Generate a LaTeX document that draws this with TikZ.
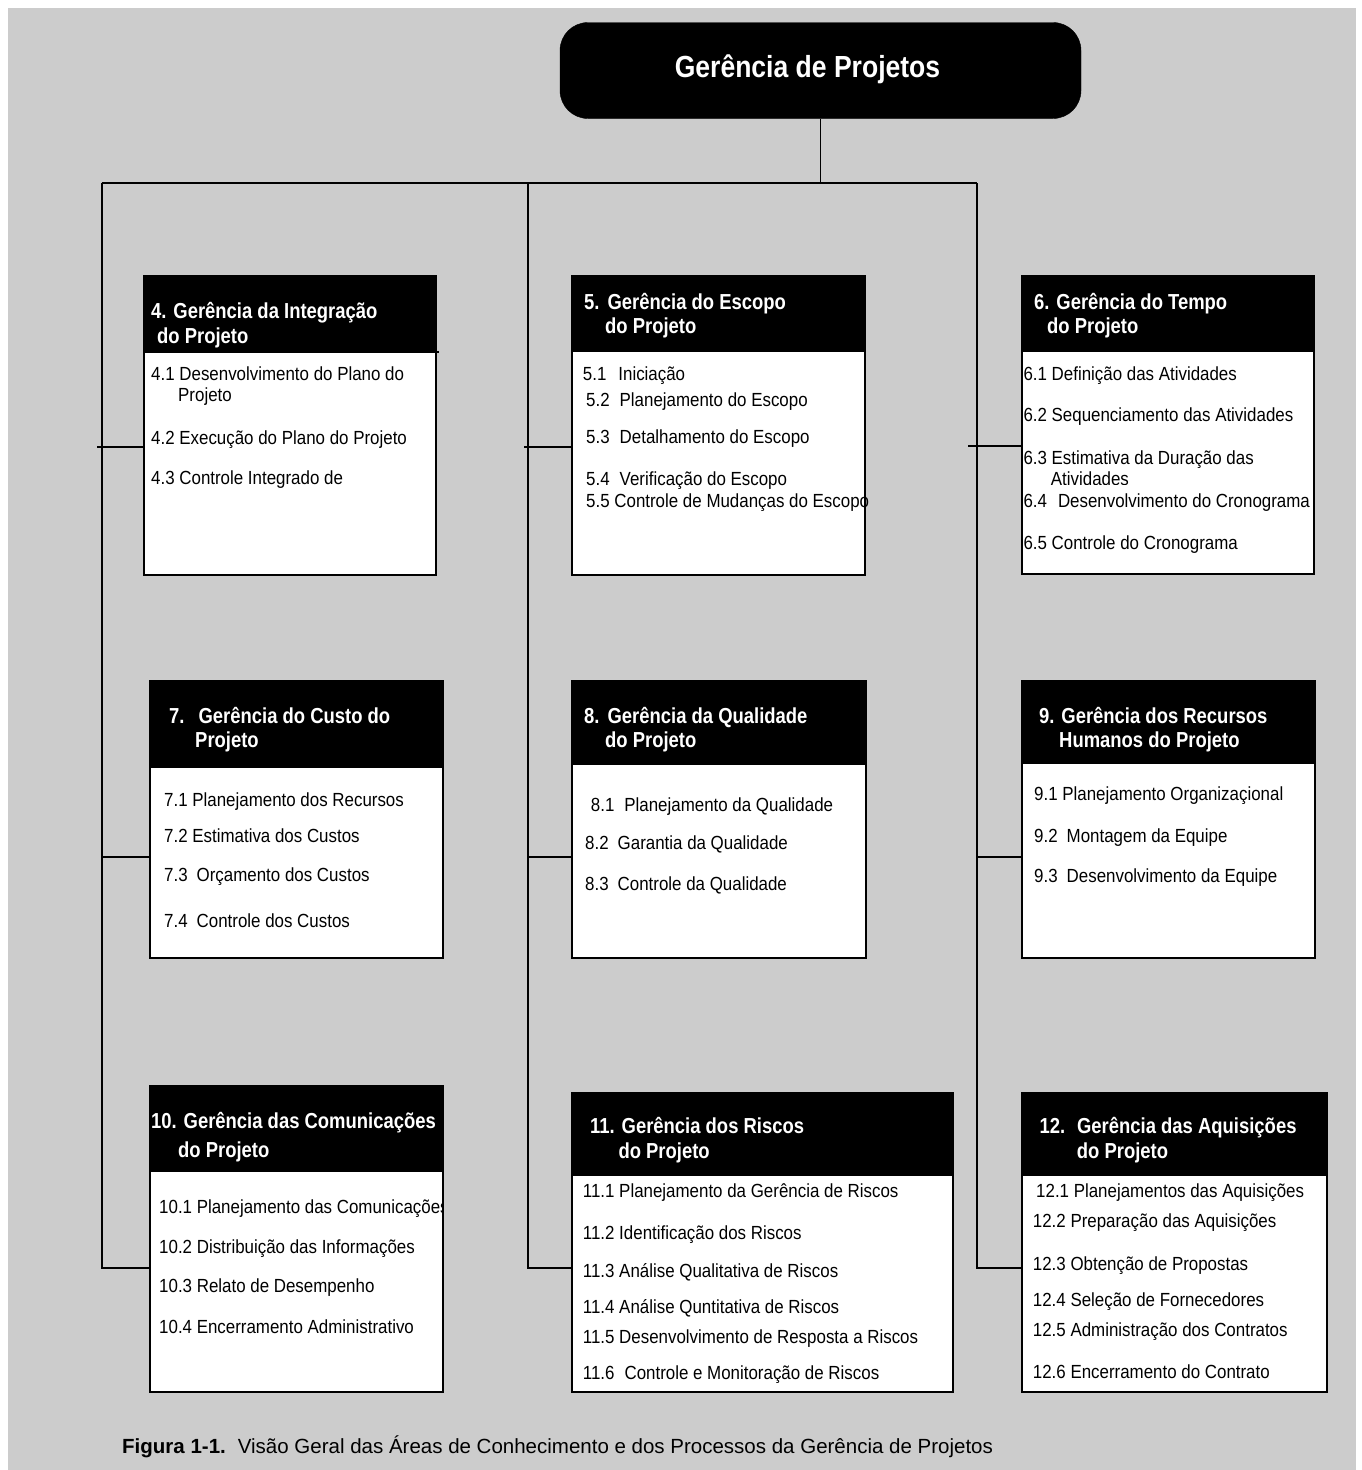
\documentclass[tikz,border=0pt]{standalone}
\usepackage{fontspec}
\setmainfont{Liberation Sans}
\newfontfamily\bodyf[FakeStretch=0.89]{Liberation Sans}
\newfontfamily\headf[FakeStretch=0.85]{Liberation Sans}
\newfontfamily\titlef[FakeStretch=0.87]{Liberation Sans}
\definecolor{bg}{RGB}{204,204,204}
\newcommand\xgap[1]{\hspace{#1pt}}
\tikzset{
  conn/.style={draw=black, line width=1.8pt},
  bx/.style={draw=black, line width=1.8pt, fill=white, anchor=north west, inner sep=0pt, outer sep=0pt},
  hd/.style={draw=black, line width=1.8pt, fill=black, anchor=north west, inner sep=0pt, outer sep=0pt},
  headtext/.style={anchor=base west, inner sep=0pt, text=white, font=\headf\bfseries\fontsize{21.7}{25}\selectfont},
  bodytext/.style={anchor=base west, inner sep=0pt, text=black, font=\bodyf\fontsize{19}{22}\selectfont},
  topbox/.style={fill=black, draw=black, rounded corners=28pt, minimum width=521pt, minimum height=96pt, inner sep=0pt, outer sep=0pt},
}
\newcommand\mkbox[6]{%
  \node[bx, minimum width=#4pt, minimum height=#5pt] (b#1) at (#2,#3) {};
  \node[hd, minimum width=#4pt, minimum height=#6pt] (h#1) at (#2,#3) {};}
\newcommand\hdtxt[4]{\node[headtext] (#1) at (#2,#3) {#4};}
\newcommand\bdtxt[4]{\node[bodytext] (#1) at (#2,#3) {#4};}
\begin{document}
\begin{tikzpicture}[x=1pt, y=-1pt]
\useasboundingbox (0,0) rectangle (1361,1470);
\fill[white] (0,0) rectangle (1361,1470);
\fill[bg] (8,8) rectangle (1356,1470);

% root
\node[topbox] (root) at (820.5,70.5) {};
\node[anchor=base, inner sep=0pt, text=white, font=\titlef\bfseries\fontsize{30.5}{35}\selectfont] (rootlbl) at (807.5,77.3) {Gerência de Projetos};

% bus coordinates
\coordinate (busL) at (101.7,183);
\coordinate (busM) at (528.3,183);
\coordinate (busR) at (976.7,183);
\coordinate (e10) at (101.7,1268.3);
\coordinate (e11) at (528.3,1268.3);
\coordinate (e12) at (976.7,1268.3);
\coordinate (s4) at (97,446.7);
\coordinate (s5) at (524,446.7);
\coordinate (s6) at (968,445.7);
\coordinate (s7) at (101.7,856.7);
\coordinate (s8) at (528.3,856.7);
\coordinate (s9) at (976.7,856.7);

% boxes
\mkbox{4}{144.3}{276}{291.7}{299}{76}
\mkbox{5}{572.3}{276}{292.7}{299}{75}
\mkbox{6}{1021.7}{276}{292.3}{298}{75}
\mkbox{7}{150}{680.7}{293.3}{277.6}{86}
\mkbox{8}{572.3}{680.7}{293.3}{277.6}{83.3}
\mkbox{9}{1021.7}{680.7}{293.3}{277.6}{82.6}
\mkbox{10}{150}{1086}{293.3}{305.7}{84.7}
\mkbox{11}{572.3}{1092.7}{380.4}{299}{82.3}
\mkbox{12}{1021.7}{1092.7}{305}{299}{82.3}
\coordinate (tick4) at (439,352);
\draw[line width=1.2pt] (h4.south east) -- (tick4);

% connectors
\draw[conn] (root.south) -- (root.south |- busR);
\draw[conn] (busL) -- (busR);
\draw[conn] (busL) -- (e10) -- (e10 -| b10.west);
\draw[conn] (busM) -- (e11) -- (e11 -| b11.west);
\draw[conn] (busR) -- (e12) -- (e12 -| b12.west);
\draw[conn] (s4) -- (s4 -| b4.west);
\draw[conn] (s5) -- (s5 -| b5.west);
\draw[conn] (s6) -- (s6 -| b6.west);
\draw[conn] (s7) -- (s7 -| b7.west);
\draw[conn] (s8) -- (s8 -| b8.west);
\draw[conn] (s9) -- (s9 -| b9.west);

% box 4
\hdtxt{t4h1}{151}{318}{4. Gerência da Integração}
\hdtxt{t4h2}{157}{343}{do Projeto}
\bdtxt{t41}{151}{380}{4.1 Desenvolvimento do Plano do}
\bdtxt{t41b}{178}{401}{Projeto}
\bdtxt{t42}{151}{444}{4.2 Execução do Plano do Projeto}
\bdtxt{t43}{151}{484}{4.3 Controle Integrado de}

% box 5
\hdtxt{t5h1}{584}{309}{5.\xgap{8}Gerência do Escopo}
\hdtxt{t5h2}{605}{333}{do Projeto}
\bdtxt{t51}{582.7}{380}{5.1\xgap{12}Iniciação}
\bdtxt{t52}{586}{406.7}{5.2\xgap{10}Planejamento do Escopo}
\bdtxt{t53}{586}{443}{5.3\xgap{10}Detalhamento do Escopo}
\bdtxt{t54}{586}{485}{5.4\xgap{10}Verificação do Escopo}
\bdtxt{t55}{586}{507}{5.5 Controle de Mudanças do Escopo}

% box 6
\hdtxt{t6h1}{1034}{309}{6. Gerência do Tempo}
\hdtxt{t6h2}{1047}{333}{do Projeto}
\bdtxt{t61}{1023.3}{380}{6.1 Definição das Atividades}
\bdtxt{t62}{1023.3}{421.7}{6.2 Sequenciamento das Atividades}
\bdtxt{t63}{1023.3}{464}{6.3 Estimativa da Duração das}
\begin{scope}
\clip (1022,460) rectangle (1314,484);
\bdtxt{t63b}{1050.7}{485.5}{Atividades}
\end{scope}
\bdtxt{t64}{1023.3}{507.7}{6.4\xgap{11}Desenvolvimento do Cronograma}
\bdtxt{t65}{1023.3}{549}{6.5 Controle do Cronograma}

% box 7
\hdtxt{t7h1}{169}{723.3}{7.\xgap{14}Gerência do Custo do}
\hdtxt{t7h2}{195}{747.3}{Projeto}
\bdtxt{t71}{164}{806.7}{7.1 Planejamento dos Recursos}
\bdtxt{t72}{164}{842.7}{7.2 Estimativa dos Custos}
\bdtxt{t73}{164}{881.7}{7.3\xgap{9}Orçamento dos Custos}
\bdtxt{t74}{164}{927.7}{7.4\xgap{9}Controle dos Custos}

% box 8
\hdtxt{t8h1}{584}{723.3}{8.\xgap{8}Gerência da Qualidade}
\hdtxt{t8h2}{605}{747.3}{do Projeto}
\bdtxt{t81}{590.7}{811.7}{8.1\xgap{10}Planejamento da Qualidade}
\bdtxt{t82}{585}{849}{8.2\xgap{9}Garantia da Qualidade}
\bdtxt{t83}{585}{890}{8.3\xgap{9}Controle da Qualidade}

% box 9
\hdtxt{t9h1}{1039}{723.3}{9. Gerência dos Recursos}
\hdtxt{t9h2}{1059}{747.3}{Humanos do Projeto}
\bdtxt{t91}{1034}{800.7}{9.1 Planejamento Organizaçional}
\bdtxt{t92}{1034}{842.3}{9.2\xgap{9}Montagem da Equipe}
\bdtxt{t93}{1034}{882.3}{9.3\xgap{9}Desenvolvimento da Equipe}

% box 10
\hdtxt{t10h1}{151}{1128}{10. Gerência das Comunicações}
\hdtxt{t10h2}{178}{1157}{do Projeto}
\begin{scope}
\clip (150,1170) rectangle (443.3,1391.7);
\bdtxt{t101}{159}{1213}{10.1 Planejamento das Comunicações}
\end{scope}
\bdtxt{t102}{159}{1253}{10.2 Distribuição das Informações}
\bdtxt{t103}{159}{1292}{10.3 Relato de Desempenho}
\bdtxt{t104}{159}{1333}{10.4 Encerramento Administrativo}

% box 11
\hdtxt{t11h1}{590}{1133}{11. Gerência dos Riscos}
\hdtxt{t11h2}{618.3}{1158}{do Projeto}
\bdtxt{t111}{582.7}{1197}{11.1 Planejamento da Gerência de Riscos}
\bdtxt{t112}{582.7}{1239}{11.2 Identificação dos Riscos}
\bdtxt{t113}{582.7}{1277}{11.3 Análise Qualitativa de Riscos}
\bdtxt{t114}{582.7}{1313}{11.4 Análise Quntitativa de Riscos}
\bdtxt{t115}{582.7}{1343}{11.5 Desenvolvimento de Resposta a Riscos}
\bdtxt{t116}{582.7}{1379}{11.6\xgap{10}Controle e Monitoração de Riscos}

% box 12
\hdtxt{t12h1}{1039.3}{1133}{12.\xgap{12}Gerência das Aquisições}
\hdtxt{t12h2}{1076.7}{1158}{do Projeto}
\bdtxt{t121}{1036}{1197}{12.1 Planejamentos das Aquisições}
\bdtxt{t122}{1032.7}{1227}{12.2 Preparação das Aquisições}
\bdtxt{t123}{1032.7}{1270}{12.3 Obtenção de Propostas}
\bdtxt{t124}{1032.7}{1306}{12.4 Seleção de Fornecedores}
\bdtxt{t125}{1032.7}{1336}{12.5 Administração dos Contratos}
\bdtxt{t126}{1032.7}{1378}{12.6 Encerramento do Contrato}

% caption
\node[anchor=base west, inner sep=0pt, font=\fontsize{20.5}{24}\selectfont] (cap) at (122,1453) {\textbf{Figura 1-1.}\xgap{12}Visão Geral das Áreas de Conhecimento e dos Processos da Gerência de Projetos};
\end{tikzpicture}
\end{document}
